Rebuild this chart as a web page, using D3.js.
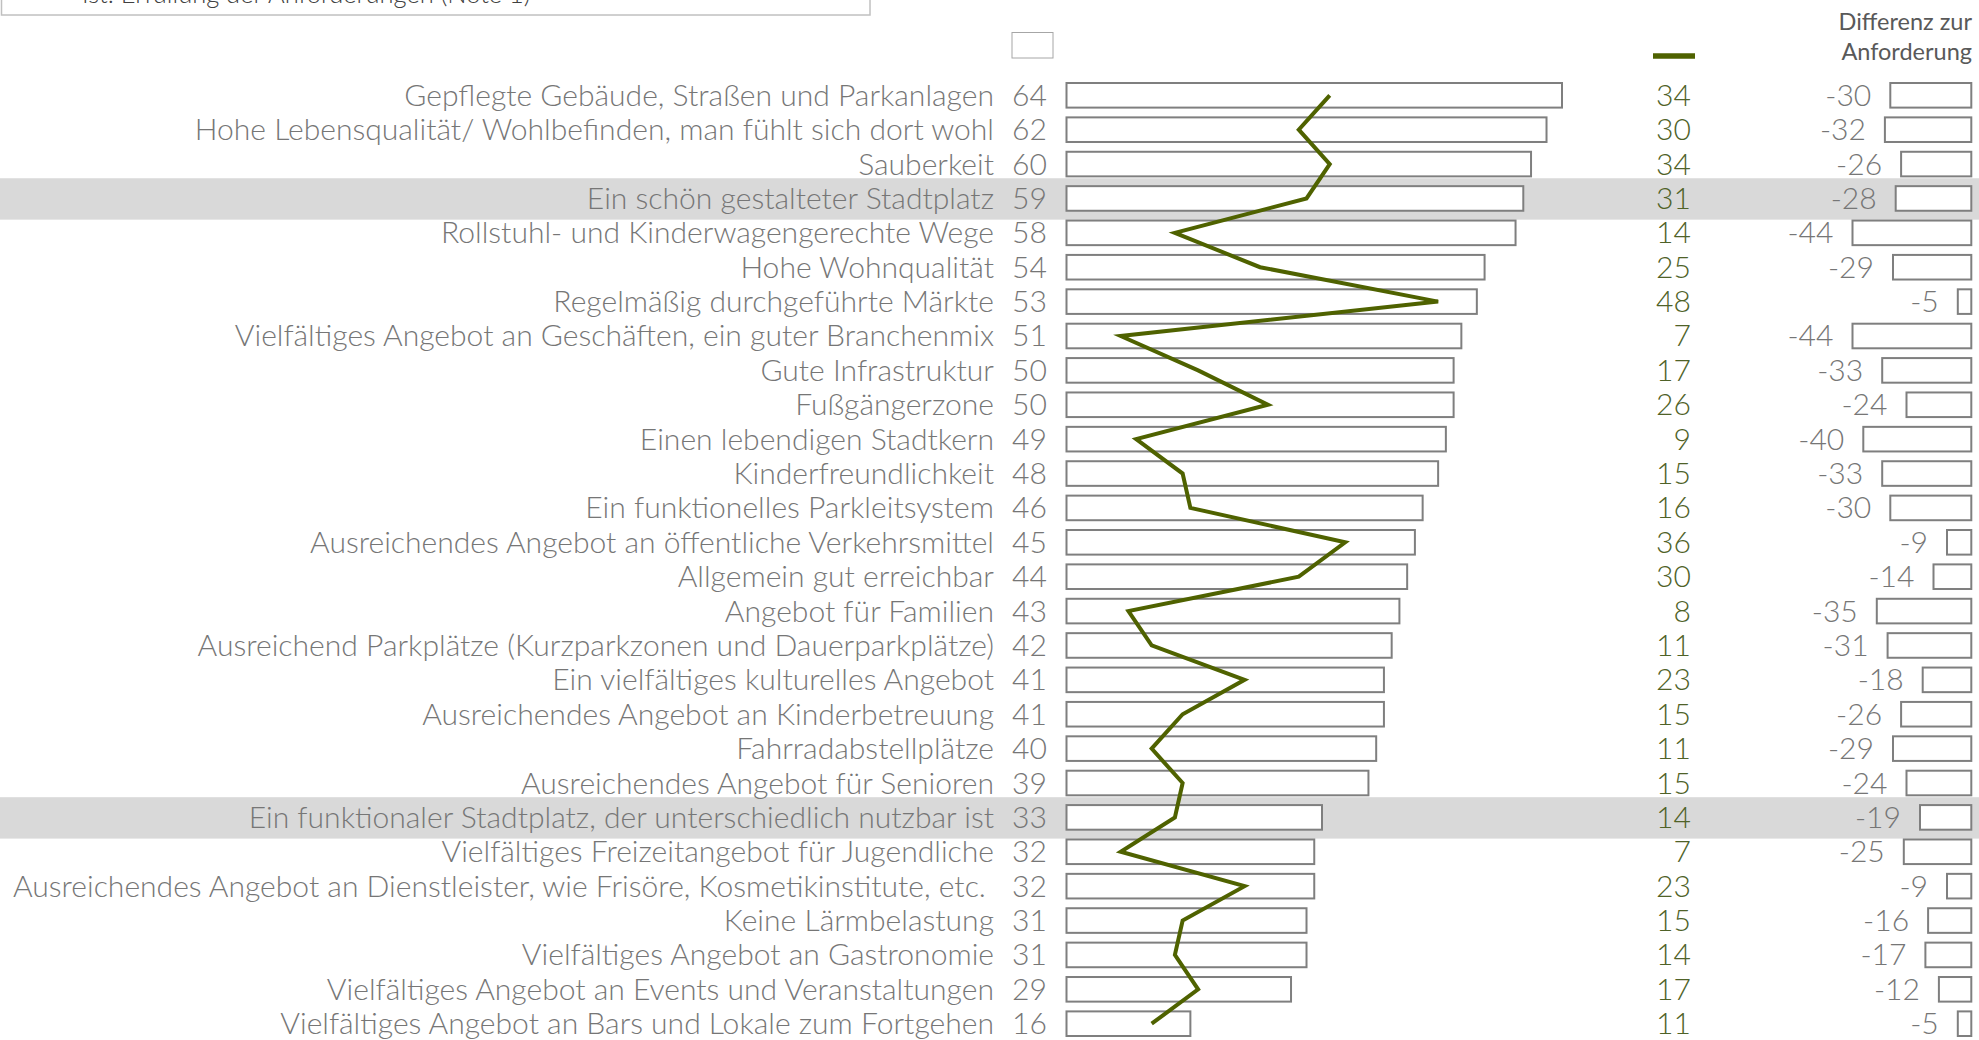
<!DOCTYPE html>
<html><head><meta charset="utf-8">
<script src="https://cdn.jsdelivr.net/npm/d3@7"></script>
<style>
html,body{margin:0;padding:0;background:#fff;overflow:hidden}
svg{display:block}
text{font-family:Lato,"Open Sans","DejaVu Sans",sans-serif;font-weight:300}
</style></head>
<body>
<svg id="chart" width="1979" height="1040"></svg>
<script>
const categories = [
 "Gepflegte Gebäude, Straßen und Parkanlagen",
 "Hohe Lebensqualität/ Wohlbefinden, man fühlt sich dort wohl",
 "Sauberkeit",
 "Ein schön gestalteter Stadtplatz",
 "Rollstuhl- und Kinderwagengerechte Wege",
 "Hohe Wohnqualität",
 "Regelmäßig durchgeführte Märkte",
 "Vielfältiges Angebot an Geschäften, ein guter Branchenmix",
 "Gute Infrastruktur",
 "Fußgängerzone",
 "Einen lebendigen Stadtkern",
 "Kinderfreundlichkeit",
 "Ein funktionelles Parkleitsystem",
 "Ausreichendes Angebot an öffentliche Verkehrsmittel",
 "Allgemein gut erreichbar",
 "Angebot für Familien",
 "Ausreichend Parkplätze (Kurzparkzonen und Dauerparkplätze)",
 "Ein vielfältiges kulturelles Angebot",
 "Ausreichendes Angebot an Kinderbetreuung",
 "Fahrradabstellplätze",
 "Ausreichendes Angebot für Senioren",
 "Ein funktionaler Stadtplatz, der unterschiedlich nutzbar ist",
 "Vielfältiges Freizeitangebot für Jugendliche",
 "Ausreichendes Angebot an Dienstleister, wie Frisöre, Kosmetikinstitute, etc. ",
 "Keine Lärmbelastung",
 "Vielfältiges Angebot an Gastronomie",
 "Vielfältiges Angebot an Events und Veranstaltungen",
 "Vielfältiges Angebot an Bars und Lokale zum Fortgehen"
];
// Anforderung (bars)
const anforderung = [64,62,60,59,58,54,53,51,50,50,49,48,46,45,44,43,42,41,41,40,39,33,32,32,31,31,29,16];
// Ist: Erfüllung der Anforderungen (line)
const erfuellung = [34,30,34,31,14,25,48,7,17,26,9,15,16,36,30,8,11,23,15,11,15,14,7,23,15,14,17,11];
// Differenz zur Anforderung
const differenz = [-30,-32,-26,-28,-44,-29,-5,-44,-33,-24,-40,-33,-30,-9,-14,-35,-31,-18,-26,-29,-24,-19,-25,-9,-16,-17,-12,-5];
const highlighted = ["Ein schön gestalteter Stadtplatz","Ein funktionaler Stadtplatz, der unterschiedlich nutzbar ist"];
const legendLineLabel = "Ist: Erfüllung der Anforderungen (Note 1)";
const diffHeader = ["Differenz zur","Anforderung"];

const svg = d3.select("#chart");
const GRAY = "#767676", GREEN = "#4f6228", LINEGREEN = "#4f6200", BARSTROKE = "#7f7f7f";

const y = d3.scalePoint().domain(categories).range([95.3, 1023.7]);
const x = d3.scaleLinear().domain([0, 64]).range([1066.5, 1562]);
const xd = d3.scaleLinear().domain([0, 30]).range([0, 81]);
const diffRight = 1971.3;
const barH = 24.6;

// highlight bands
svg.append("g").selectAll("rect").data(highlighted).join("rect")
  .attr("x", 0).attr("width", 1979)
  .attr("y", d => y(d) + 0.5 - 20.7).attr("height", 41.4)
  .attr("fill", "#d9d9d9");

// top legend box (cut at top, as in the reference)
svg.append("rect").attr("x", 1.5).attr("y", -30).attr("width", 868.5).attr("height", 45)
  .attr("fill", "none").attr("stroke", "#c0c0c0").attr("stroke-width", 1.5);
svg.append("text").attr("x", 82).attr("y", 3).attr("font-size", 25.5).attr("fill", "#404040")
  .text(legendLineLabel);

// legend swatch for bars
svg.append("rect").attr("x", 1012).attr("y", 32.5).attr("width", 41).attr("height", 25.5)
  .attr("fill", "#fff").attr("stroke", "#a6a6a6").attr("stroke-width", 1);
// legend line
svg.append("line").attr("x1", 1653).attr("x2", 1695).attr("y1", 56).attr("y2", 56)
  .attr("stroke", LINEGREEN).attr("stroke-width", 5.5);

// diff header
svg.append("g").selectAll("text").data(diffHeader).join("text")
  .attr("x", 1972).attr("y", (d, i) => 30 + i * 29.5)
  .attr("text-anchor", "end").attr("font-size", 23.5).attr("fill", "#595959")
  .style("font-weight", 400)
  .text(d => d);

const rows = categories.map((c, i) => ({c, a: anforderung[i], e: erfuellung[i], d: differenz[i]}));

// category labels
const labels = svg.append("g").selectAll("text").data(rows).join("text")
  .attr("font-size", 29).attr("fill", GRAY).attr("text-anchor", "end")
  .style("white-space", "pre")
  .text(d => d.c);
const firstLen = labels.nodes()[0].getComputedTextLength();
const sx = 590 / firstLen;
labels.attr("transform", d => `translate(994,${y(d.c) + 10.5}) scale(${sx},1)`);

// value labels
svg.append("g").selectAll("text").data(rows).join("text")
  .attr("font-size", 29).attr("fill", GRAY).attr("text-anchor", "end")
  .attr("transform", d => `translate(1047,${y(d.c) + 10.5}) scale(${sx},1)`)
  .text(d => d.a);

// bars
svg.append("g").selectAll("rect").data(rows).join("rect")
  .attr("x", x(0)).attr("width", d => x(d.a) - x(0))
  .attr("y", d => y(d.c) - barH / 2).attr("height", barH)
  .attr("fill", "#fff").attr("stroke", BARSTROKE).attr("stroke-width", 2);

// line
const line = d3.line().x(d => x(d.e)).y(d => y(d.c));
svg.append("path").datum(rows).attr("d", line)
  .attr("fill", "none").attr("stroke", LINEGREEN).attr("stroke-width", 4)
  .attr("stroke-linejoin", "miter");

// green values
svg.append("g").selectAll("text").data(rows).join("text")
  .attr("font-size", 29).attr("fill", GREEN).attr("text-anchor", "end")
  .attr("transform", d => `translate(1691,${y(d.c) + 10.5}) scale(${sx},1)`)
  .text(d => d.e);

// diff bars
svg.append("g").selectAll("rect").data(rows).join("rect")
  .attr("x", d => diffRight - xd(-d.d)).attr("width", d => xd(-d.d))
  .attr("y", d => y(d.c) - barH / 2).attr("height", barH)
  .attr("fill", "#fff").attr("stroke", BARSTROKE).attr("stroke-width", 2);

// diff labels
svg.append("g").selectAll("text").data(rows).join("text")
  .attr("font-size", 29).attr("fill", GRAY).attr("text-anchor", "end")
  .attr("transform", d => `translate(${diffRight - xd(-d.d) - 19},${y(d.c) + 10.5}) scale(${sx},1)`)
  .text(d => d.d);
</script>
</body></html>
